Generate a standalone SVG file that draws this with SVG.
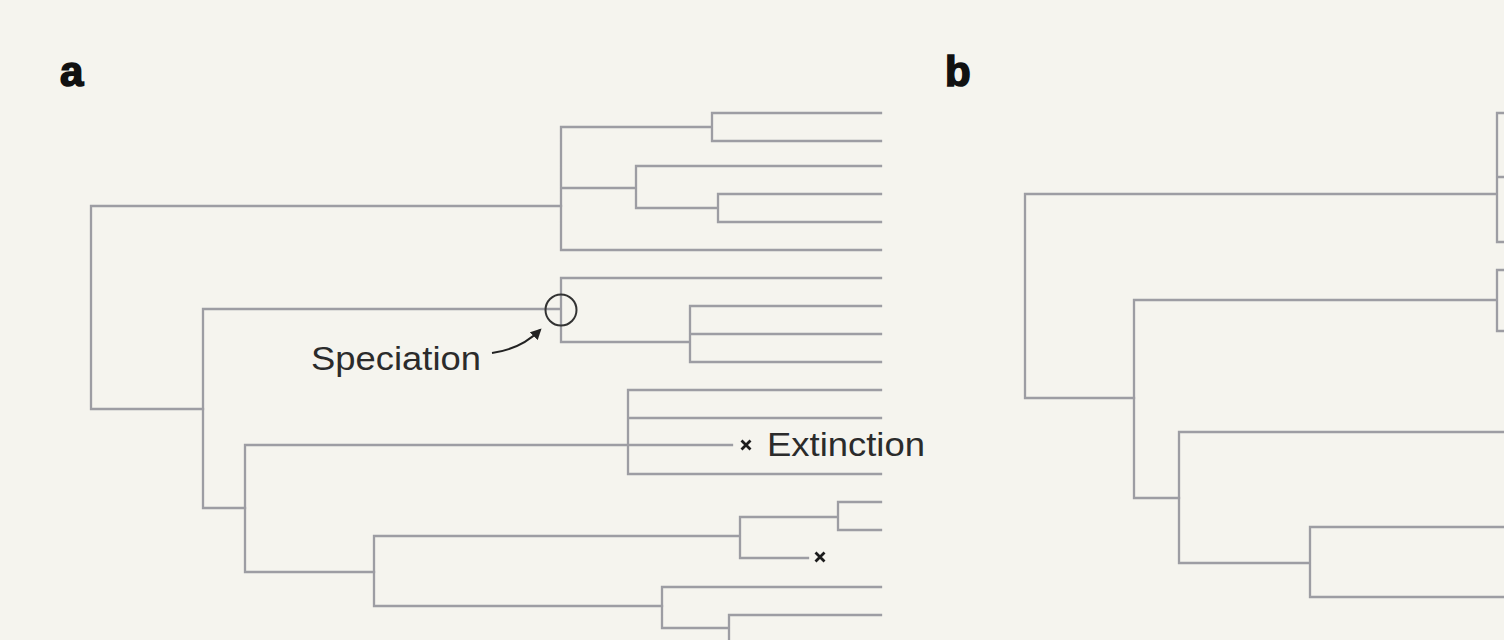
<svg xmlns="http://www.w3.org/2000/svg" width="1504" height="640" viewBox="0 0 1504 640">
  <style>
    .br { fill: none; stroke: #9d9da3; stroke-width: 2.3; stroke-linecap: square; }
    .lbl { font-family: "Liberation Sans", Arial, sans-serif; font-weight: bold; font-size: 42px; fill: #111; stroke: #111; stroke-width: 1.6; }
    .ann { font-family: "Liberation Sans", Arial, sans-serif; font-size: 34px; fill: #2b2b2b; }
    .xm { stroke: #1c1c1c; stroke-width: 2.8; stroke-linecap: butt; }
  </style>
  <defs>
    <marker id="ah" viewBox="0 0 10 10" refX="8" refY="5" markerWidth="5.5" markerHeight="5.5" orient="auto">
      <path d="M0,0 L10,5 L0,10 z" fill="#222"/>
    </marker>
  </defs>
  <rect width="1504" height="640" fill="#f5f4ee"/>

  <g id="connectors">
    <!-- panel a -->
    <path class="br" d="M561,206 H91 V409 H203"/>
    <path class="br" d="M881,113 H712 V141 H881 M712,127 H561 V250 H881 M561,188 H636 M881,166 H636 V208 H718 M881,194 H718 V222 H881"/>
    <path class="br" d="M203,309 V508 H245 M203,309 H561 M881,278 H561 V342 H690 M881,306 H690 V362 H881 M690,334 H881"/>
    <path class="br" d="M245,445 V572 H374 M245,445 H628 M881,390 H628 V474 H881 M628,418 H881 M628,445 H732"/>
    <path class="br" d="M374,536 V606 H662 M374,536 H740 M838,517 H740 V558 H808 M881,502 H838 V530 H881"/>
    <path class="br" d="M881,587 H662 V628 H729 M881,615 H729 V650"/>
    <!-- panel b -->
    <path class="br" d="M1497,194 H1025 V398 H1134 M1504,113 H1497 V242 H1504 M1497,177 H1504"/>
    <path class="br" d="M1134,300 V498 H1179 M1134,300 H1497 M1504,270 H1497 V331 H1504"/>
    <path class="br" d="M1504,432 H1179 V563 H1310 M1504,527 H1310 V597 H1504"/>
    <!-- speciation arrow -->
    <path d="M492,353 Q521,349 540,330" fill="none" stroke="#222" stroke-width="2" marker-end="url(#ah)"/>
  </g>

  <g id="label-a"><text class="lbl" x="60" y="86">a</text></g>
  <g id="label-b"><text class="lbl" x="945" y="86">b</text></g>

  <g id="speciation">
    <circle cx="561" cy="310" r="15.5" fill="none" stroke="#333" stroke-width="2"/>
    <text class="ann" x="311" y="370" textLength="170" lengthAdjust="spacingAndGlyphs">Speciation</text>
  </g>

  <g id="extinction">
    <path class="xm" d="M741.5,440.5 L750.5,449.5 M750.5,440.5 L741.5,449.5"/>
    <text class="ann" x="767" y="456" textLength="158" lengthAdjust="spacingAndGlyphs">Extinction</text>
  </g>

  <g id="extinction-2">
    <path class="xm" d="M815.5,552.5 L824.5,561.5 M824.5,552.5 L815.5,561.5"/>
  </g>
</svg>
